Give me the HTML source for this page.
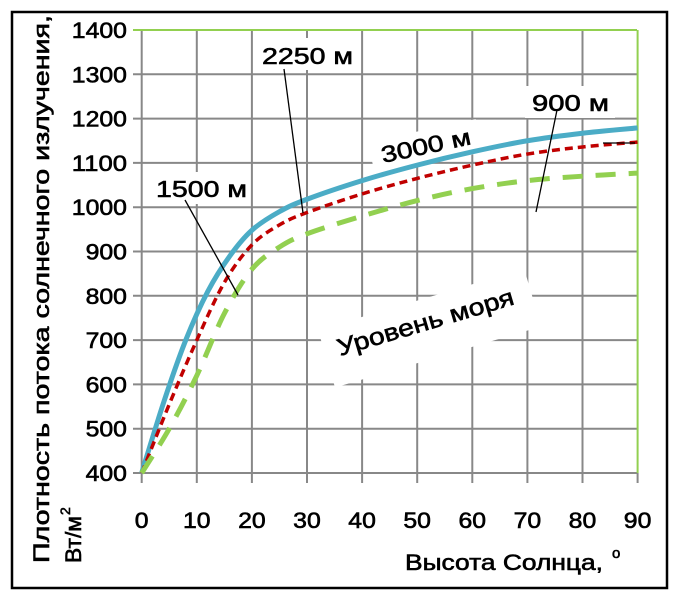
<!DOCTYPE html>
<html><head><meta charset="utf-8"><style>
html,body{margin:0;padding:0;background:#fff}
svg{display:block}
text{font-family:"Liberation Sans",sans-serif;fill:#000;stroke:#000;stroke-width:0.6}
</style></head><body>
<svg id="s" width="678" height="599" xmlns="http://www.w3.org/2000/svg">
<rect x="12" y="12" width="655" height="576" fill="#fff" stroke="#000" stroke-width="2.5"/>
<g id="grid" stroke="#888" stroke-width="2"></g>
<g id="bg" fill="#fff"></g>
<g id="curves" fill="none"></g>
<g id="labels"></g>
</svg>
<script>
const NS="http://www.w3.org/2000/svg";
const X=x=>141.7+x*5.51, Y=v=>473-(v-400)*0.443;
const g=document.getElementById('grid');
function el(p,tag,a,txt){const e=document.createElementNS(NS,tag);for(const k in a)e.setAttribute(k,a[k]);if(txt)e.textContent=txt;p.appendChild(e);return e;}
for(let v=400;v<=1300;v+=100) el(g,'line',{x1:133,x2:637,y1:Y(v),y2:Y(v)});
for(let x=0;x<=80;x+=10) el(g,'line',{x1:X(x),x2:X(x),y1:Y(1400),y2:483});
el(g,'line',{x1:X(90),x2:X(90),y1:Y(400),y2:483});
el(g,'line',{x1:133,x2:637,y1:Y(1400),y2:Y(1400),stroke:'#92d050'});
el(g,'line',{x1:X(90),x2:X(90),y1:Y(1400),y2:Y(400),stroke:'#92d050'});
const s=document.getElementById('s');
for(let v=400;v<=1400;v+=100){const t=String(v);el(s,'text',{x:127,y:Y(v)+8,'text-anchor':'end','font-size':22,textLength:t.length*13.8,lengthAdjust:'spacingAndGlyphs'},t);}
for(let x=0;x<=90;x+=10){const t=String(x);el(s,'text',{x:X(x),y:528,'text-anchor':'middle','font-size':22,textLength:t.length*13.8,lengthAdjust:'spacingAndGlyphs'},t);}
el(s,'text',{x:405,y:570,'font-size':22,textLength:198,lengthAdjust:'spacingAndGlyphs'},'Высота Солнца,');
el(s,'text',{x:612,y:558,'font-size':15},'o');
el(s,'text',{x:0,y:0,'font-size':22,transform:'translate(49,563) rotate(-90)',textLength:548,lengthAdjust:'spacingAndGlyphs'},'Плотность потока солнечного излучения,');
el(s,'text',{x:0,y:0,'font-size':22,transform:'translate(81,563) rotate(-90)',textLength:47,lengthAdjust:'spacingAndGlyphs'},'Вт/м');
el(s,'text',{x:0,y:0,'font-size':14,transform:'translate(70,515) rotate(-90)'},'2');
function path(pts){const p=pts.map(([x,v])=>[X(x),Y(v)]);let d='M'+p[0][0]+','+p[0][1];
for(let i=0;i<p.length-1;i++){const p0=p[i-1]||p[i],p1=p[i],p2=p[i+1],p3=p[i+2]||p2;
d+=` C${p1[0]+(p2[0]-p0[0])/6},${p1[1]+(p2[1]-p0[1])/6} ${p2[0]-(p3[0]-p1[0])/6},${p2[1]-(p3[1]-p1[1])/6} ${p2[0]},${p2[1]}`;}return d;}
const B=document.getElementById('bg');
el(B,'rect',{x:258,y:38,width:100,height:32});
el(B,'rect',{x:150,y:172,width:100,height:32});
el(B,'rect',{x:525,y:86,width:90,height:32});
el(B,'rect',{x:0,y:0,width:110,height:34,transform:'translate(368,142) rotate(-12)'});
el(B,'rect',{x:0,y:0,width:215,height:60,transform:'translate(318,330) rotate(-16.5)'});
const c=document.getElementById('curves');
el(c,'path',{d:path([[0,400],[4,560],[8,700],[12,810],[16,890],[20,948],[25,990],[30,1018],[40,1060],[50,1095],[60,1125],[70,1150],[80,1167],[90,1179]]),stroke:'#4bacc6','stroke-width':5});
el(c,'path',{d:path([[0,400],[5,555],[10,700],[15,830],[20,915],[25,960],[30,988],[40,1030],[50,1065],[60,1095],[70,1120],[80,1136],[90,1147]]),stroke:'#c00000','stroke-width':3.5,'stroke-dasharray':'8 5'});
el(c,'path',{d:path([[0,400],[5,500],[10,620],[15,760],[20,860],[25,910],[30,940],[40,980],[50,1015],[60,1042],[70,1060],[80,1070],[90,1077]]),stroke:'#92d050','stroke-width':5,'stroke-dasharray':'20 13'});
const L=document.getElementById('labels');
el(L,'line',{x1:284,y1:69,x2:303,y2:213,stroke:'#000','stroke-width':1.3});
el(L,'line',{x1:185,y1:200,x2:238,y2:295,stroke:'#000','stroke-width':1.3});
el(L,'line',{x1:557,y1:110,x2:536,y2:212,stroke:'#000','stroke-width':1.3});
el(L,'line',{x1:603,y1:143,x2:635,y2:143,stroke:'#000','stroke-width':1.3});
el(L,'text',{x:262,y:64,'font-size':23,textLength:91,lengthAdjust:'spacingAndGlyphs'},'2250 м');
el(L,'text',{x:156,y:197,'font-size':23,textLength:91,lengthAdjust:'spacingAndGlyphs'},'1500 м');
el(L,'text',{x:532,y:111,'font-size':23,textLength:77,lengthAdjust:'spacingAndGlyphs'},'900 м');
el(L,'text',{x:0,y:0,'font-size':23,transform:'translate(383,163) rotate(-12)',textLength:91,lengthAdjust:'spacingAndGlyphs'},'3000 м');
el(L,'text',{x:0,y:0,'font-size':24,transform:'translate(340,356) rotate(-16.5)',textLength:183,lengthAdjust:'spacingAndGlyphs'},'Уровень моря');
</script>
</body></html>
